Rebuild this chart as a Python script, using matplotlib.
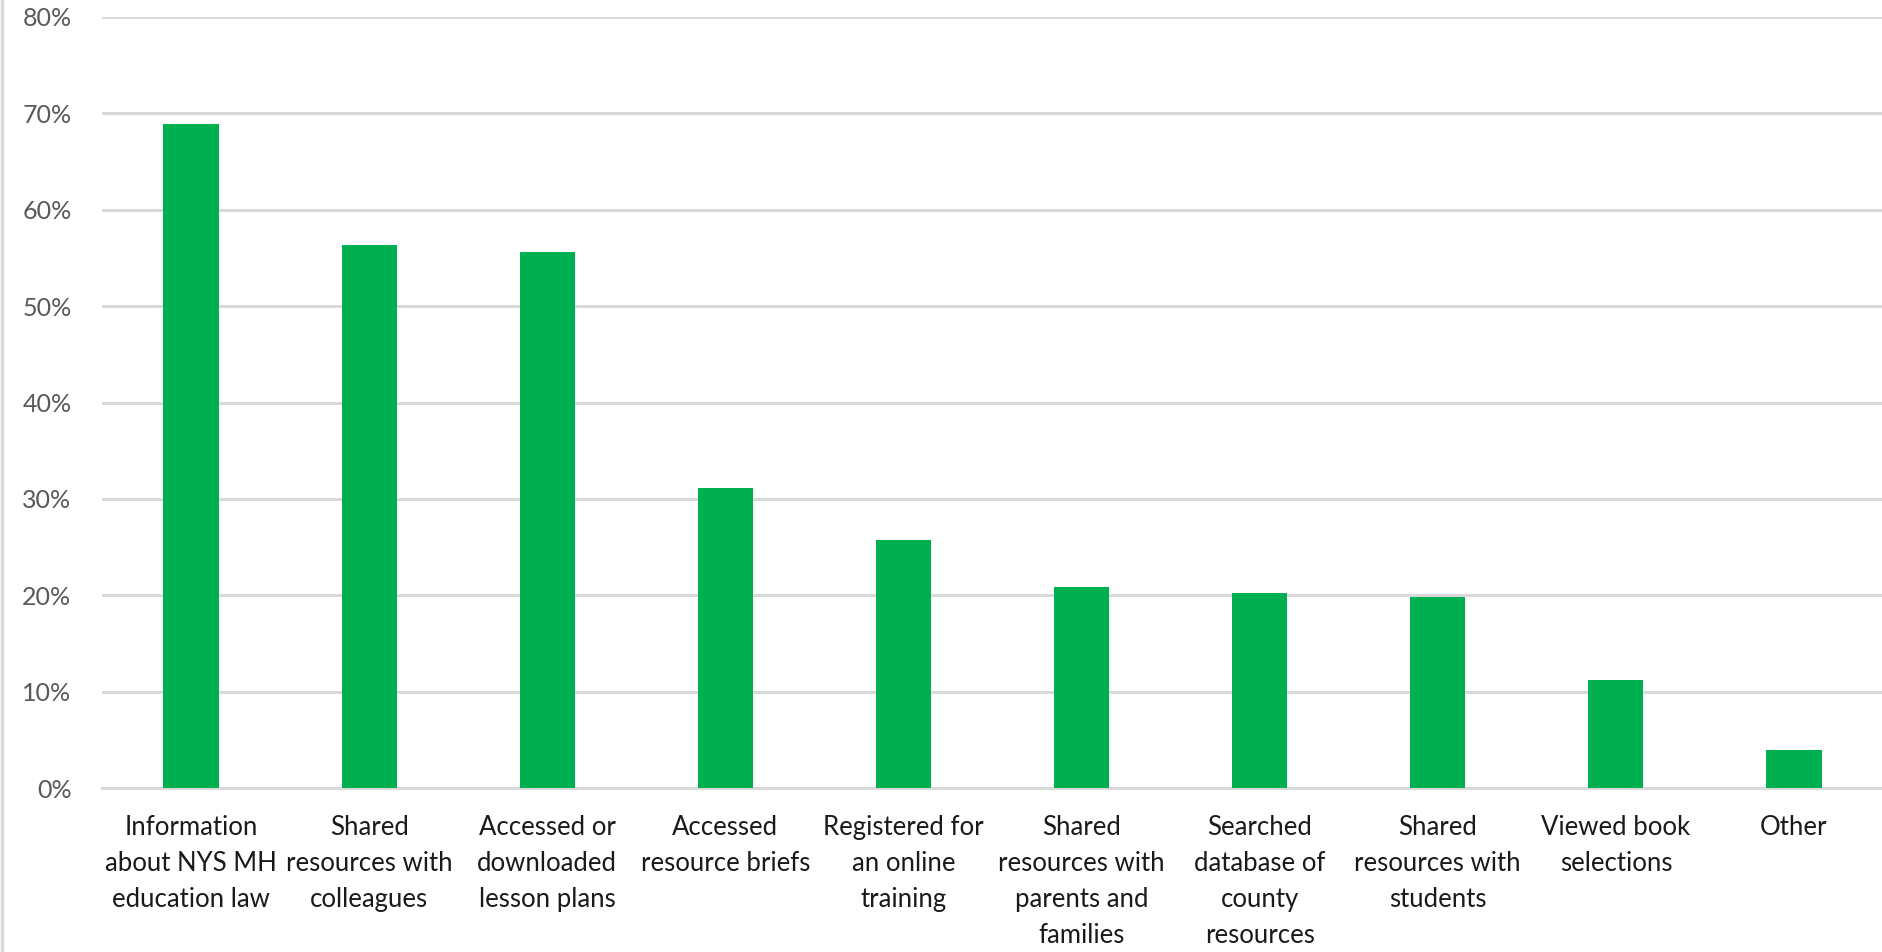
import matplotlib.pyplot as plt
from matplotlib.lines import Line2D
from matplotlib.ticker import PercentFormatter

categorias = [
    "Information\nabout NYS MH\neducation law",
    "Shared\nresources with\ncolleagues",
    "Accessed or\ndownloaded\nlesson plans",
    "Accessed\nresource briefs",
    "Registered for\nan online\ntraining",
    "Shared\nresources with\nparents and\nfamilies",
    "Searched\ndatabase of\ncounty\nresources",
    "Shared\nresources with\nstudents",
    "Viewed book\nselections",
    "Other",
]
valores = [0.689, 0.563, 0.556, 0.311, 0.257, 0.209, 0.202, 0.198, 0.112, 0.040]
y_ticks = [0.0, 0.1, 0.2, 0.3, 0.4, 0.5, 0.6, 0.7, 0.8]

plt.rcParams['font.family'] = ['Lato', 'DejaVu Sans']

fig = plt.figure(figsize=(18.83, 9.52), dpi=100)
ax = fig.add_axes([102 / 1883, 163.7 / 952, (1883 - 102) / 1883, (935.3 - 163.7) / 952])

x = range(len(categorias))
ax.bar(x, valores, width=0.31, color='#00B050', zorder=3)

ax.set_ylim(0, 0.8)
ax.set_xlim(-0.5, 9.5)
ax.set_yticks(y_ticks)
ax.yaxis.set_major_formatter(PercentFormatter(1.0, decimals=0))
ax.set_xticks(list(x))
ax.set_xticklabels(categorias, fontsize=18.5, color='#1a1a1a', linespacing=1.55, va='top')

ax.grid(axis='y', color='#d9d9d9', linewidth=2.2, zorder=0)
ax.tick_params(axis='y', length=0, pad=22, labelsize=18, labelcolor='#595959')
ax.tick_params(axis='x', length=0, pad=19)

for lado in ['top', 'right', 'left']:
    ax.spines[lado].set_visible(False)
ax.spines['bottom'].set_color('#d9d9d9')
ax.spines['bottom'].set_linewidth(2.2)

# borda esquerda do gráfico
fig.add_artist(Line2D([2 / 1883, 2 / 1883], [0, 1], color='#d9d9d9', linewidth=2.5))

fig.savefig("out.png", dpi=100)
plt.close()
